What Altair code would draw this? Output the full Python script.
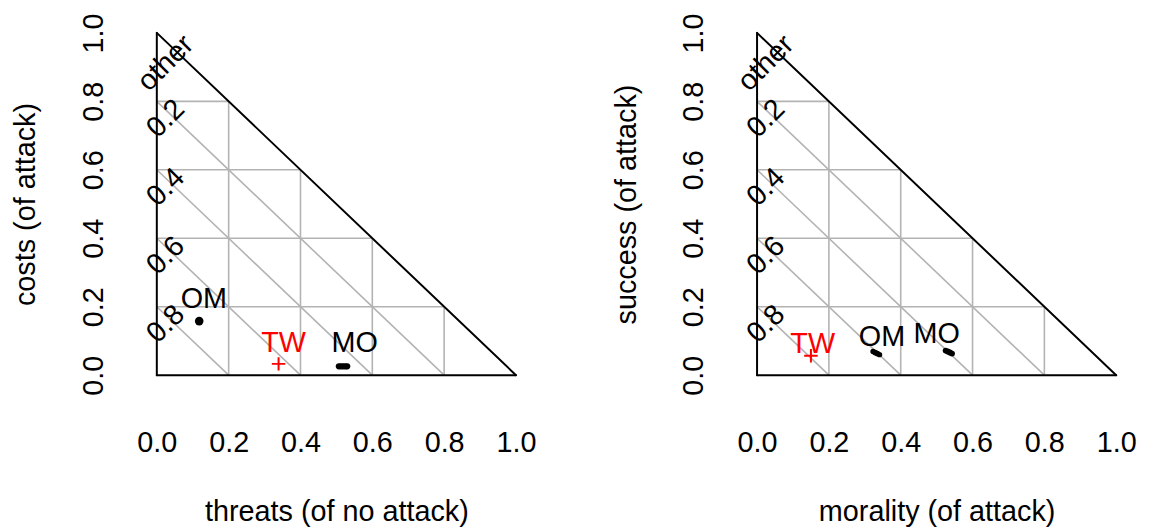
import altair as alt
import pandas as pd

FONT = "Liberation Sans"
FS = 29
W, H = 362, 345

# ---------------- data ----------------
tick_values = [0.0, 0.2, 0.4, 0.6, 0.8, 1.0]
grid_values = [0.2, 0.4, 0.6, 0.8]
other_tick_text = ["0.2", "0.4", "0.6", "0.8"]
other_title = "other"
other_title_y = 0.962

x_titles = ["threats (of no attack)", "morality (of attack)"]
y_titles = ["costs (of attack)", "success (of attack)"]

# panel 1 (threats / costs)
p1_dot_x = [0.118, 0.507, 0.513, 0.519, 0.525, 0.530]
p1_dot_y = [0.158, 0.026, 0.026, 0.026, 0.026, 0.026]
p1_dot_s = [75, 40, 40, 40, 40, 40]
p1_tw_x = [0.339]
p1_tw_y = [0.033]
p1_lab_text = ["OM", "TW", "MO"]
p1_lab_x = [0.131, 0.353, 0.551]
p1_lab_y = [0.222, 0.095, 0.095]

# panel 2 (morality / success)
p2_dot_x = [0.323, 0.329, 0.335, 0.341, 0.525, 0.531, 0.537, 0.543]
p2_dot_y = [0.069, 0.066, 0.063, 0.060, 0.072, 0.069, 0.066, 0.063]
p2_dot_s = [30, 34, 34, 30, 34, 38, 38, 34]
p2_tw_x = [0.150]
p2_tw_y = [0.057]
p2_lab_text = ["TW", "OM", "MO"]
p2_lab_x = [0.155, 0.348, 0.500]
p2_lab_y = [0.092, 0.112, 0.120]

label_colors = {"OM": "black", "MO": "black", "TW": "red"}

# ------------- derived tables ---------------
grid_rows = []
for v in grid_values:
    grid_rows.append(dict(x=0.0, y=v, x2=1 - v, y2=v))   # constant y
    grid_rows.append(dict(x=v, y=0.0, x2=v, y2=1 - v))   # constant x
    grid_rows.append(dict(x=0.0, y=v, x2=v, y2=0.0))     # constant other
grid_df = pd.DataFrame(grid_rows)

edge_df = pd.DataFrame([
    dict(x=0.0, y=0.0, x2=0.0, y2=1.0),
    dict(x=0.0, y=0.0, x2=1.0, y2=0.0),
    dict(x=0.0, y=1.0, x2=1.0, y2=0.0),
])

other_df = pd.DataFrame({
    "x": [0.0] * (len(grid_values) + 1),
    "y": [1 - v for v in grid_values] + [other_title_y],
    "t": other_tick_text + [other_title],
})

sc = alt.Scale(domain=[0, 1], nice=False, zero=False, padding=0)


def make_panel(xt, yt, dot_x, dot_y, dot_s, tw_x, tw_y, lab_t, lab_x, lab_y):
    xax = alt.Axis(values=tick_values, format=".1f", title=xt, domain=False,
                   ticks=False, grid=False, labelPadding=54, labelFlush=False,
                   labelOverlap=False, labelBaseline="top",
                   titleX=W / 2, titleY=146, titleBaseline="alphabetic",
                   titleAlign="center")
    yax = alt.Axis(values=tick_values, format=".1f", title=yt, domain=False,
                   ticks=False, grid=False, labelPadding=49, labelFlush=False,
                   labelOverlap=False, labelAngle=270, labelAlign="center",
                   labelBaseline="bottom", titleAngle=270, titleX=-123,
                   titleY=H / 2, titleBaseline="alphabetic", titleAlign="center")

    grid = alt.Chart(grid_df).mark_rule(color="#b3b3b3", strokeWidth=1.6).encode(
        x=alt.X("x:Q", scale=sc, axis=xax), y=alt.Y("y:Q", scale=sc, axis=yax),
        x2="x2:Q", y2="y2:Q")
    edges = alt.Chart(edge_df).mark_rule(color="black", strokeWidth=2,
                                         strokeCap="round").encode(
        x="x:Q", y="y:Q", x2="x2:Q", y2="y2:Q")
    other = alt.Chart(other_df).mark_text(
        angle=315, align="center", baseline="middle", dx=-6, dy=18.5,
        font=FONT, fontSize=FS, color="black").encode(x="x:Q", y="y:Q", text="t:N")
    dots = alt.Chart(pd.DataFrame({"x": dot_x, "y": dot_y, "s": dot_s})).mark_circle(
        color="black", opacity=1).encode(
        x="x:Q", y="y:Q", size=alt.Size("s:Q", scale=None, legend=None))
    tw = alt.Chart(pd.DataFrame({"x": tw_x, "y": tw_y})).mark_point(
        shape="M-1,0L1,0M0,-1L0,1", filled=False, color="red", strokeWidth=2,
        size=185, opacity=1).encode(x="x:Q", y="y:Q")
    labs_df = pd.DataFrame({"x": lab_x, "y": lab_y, "t": lab_t,
                            "c": [label_colors[t] for t in lab_t]})
    labs = alt.Chart(labs_df).mark_text(
        align="center", baseline="middle", font=FONT, fontSize=FS).encode(
        x="x:Q", y="y:Q", text="t:N", color=alt.Color("c:N", scale=None))
    return alt.layer(grid, edges, other, dots, tw, labs).properties(width=W, height=H)


p1 = make_panel(x_titles[0], y_titles[0], p1_dot_x, p1_dot_y, p1_dot_s,
                p1_tw_x, p1_tw_y, p1_lab_text, p1_lab_x, p1_lab_y)
p2 = make_panel(x_titles[1], y_titles[1], p2_dot_x, p2_dot_y, p2_dot_s,
                p2_tw_x, p2_tw_y, p2_lab_text, p2_lab_x, p2_lab_y)

chart = alt.hconcat(p1, p2, spacing=243).properties(
    bounds="flush",
    padding={"left": 4, "top": 2, "right": 5, "bottom": 5},
).configure_view(stroke=None).configure_axis(
    labelFont=FONT, labelFontSize=FS, labelColor="black",
    titleFont=FONT, titleFontSize=FS, titleFontWeight="normal", titleColor="black",
)

chart.save("out.html", embed_options={"renderer": "svg", "actions": False})
